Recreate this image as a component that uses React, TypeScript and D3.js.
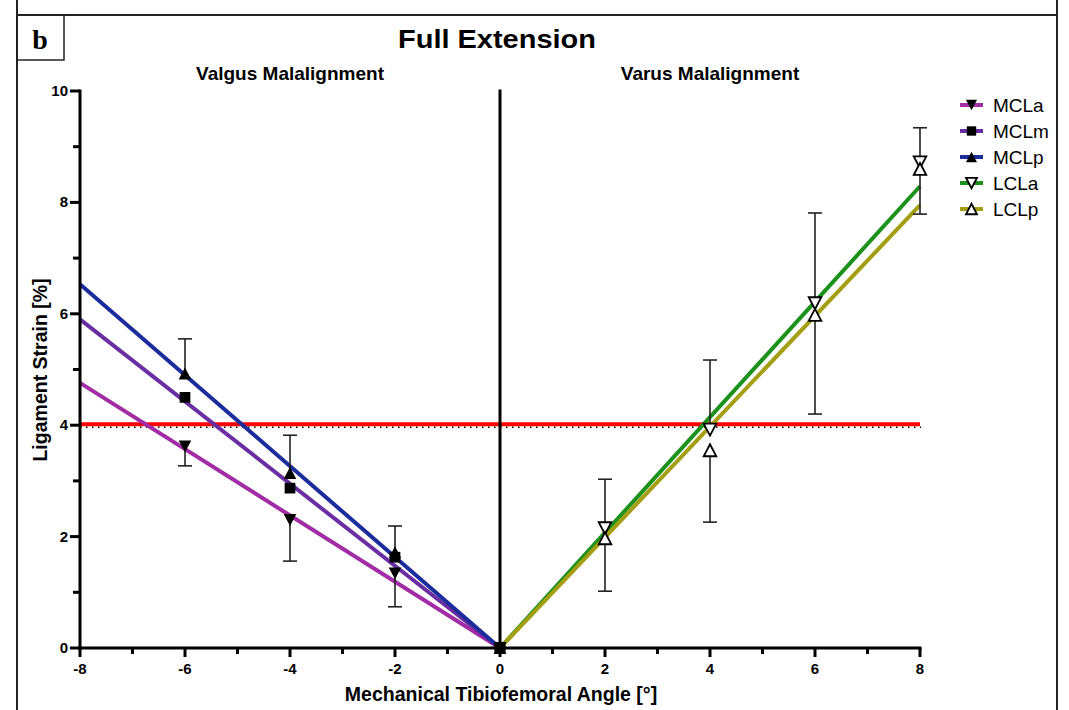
import React from "react";
import * as d3 from "d3";

const seriesNames = ["MCLa", "MCLm", "MCLp", "LCLa", "LCLp"];
const seriesColors = ["#a22ba6", "#6a2ea2", "#1b2c9c", "#1c911c", "#a39e12"];
const seriesSymbols = ["downFilled", "square", "upFilled", "downOpen", "upOpen"];
// fitted line end values (line passes through origin)
const fitX = [-8, -8, -8, 8, 8];
const fitY = [4.76, 5.9, 6.53, 8.29, 7.95];

const valgusAngles = [-6, -4, -2, 0];
const varusAngles = [0, 2, 4, 6, 8];
const mclaMeans = [3.62, 2.3, 1.34, 0];
const mclaLowerErr = [0.35, 0.74, 0.6, 0];
const mclmMeans = [4.5, 2.87, 1.63, 0];
const mclpMeans = [4.93, 3.14, 1.72, 0];
const mclpUpperErr = [0.62, 0.68, 0.47, 0];
const lclaMeans = [0, 2.15, 3.92, 6.19, 8.72];
const lclaUpperErr = [0, 0.88, 1.25, 1.62, 0.62];
const lclpMeans = [0, 1.97, 3.55, 5.98, 8.6];
const lclpLowerErr = [0, 0.95, 1.29, 1.78, 0.81];

const xTicks = [-8, -6, -4, -2, 0, 2, 4, 6, 8];
const xMinor = [-7, -5, -3, -1, 1, 3, 5, 7];
const yTicks = [0, 2, 4, 6, 8, 10];
const yMinor = [1, 3, 5, 7, 9];
const threshold = 4;

const x = d3.scaleLinear().domain([-8, 8]).range([80, 920]);
const y = d3.scaleLinear().domain([0, 10]).range([648, 91]);

function Marker({ kind, cx, cy, s = 6.3 }: any) {
  const h = s * 0.95;
  if (kind === "square") {
    return <rect x={cx - s * 0.85} y={cy - s * 0.85} width={s * 1.7} height={s * 1.7} fill="#000" />;
  }
  const down = kind.startsWith("down");
  const open = kind.endsWith("Open");
  const pts = down
    ? `${cx - s},${cy - h} ${cx + s},${cy - h} ${cx},${cy + h}`
    : `${cx - s},${cy + h} ${cx + s},${cy + h} ${cx},${cy - h}`;
  return (
    <polygon
      points={pts}
      fill={open ? "#fff" : "#000"}
      stroke="#000"
      strokeWidth={open ? 1.8 : 0}
      strokeLinejoin="miter"
    />
  );
}

function ErrBar({ xv, from, to }: any) {
  const px = x(xv);
  return (
    <g stroke="#222" strokeWidth={1.6}>
      <line x1={px} x2={px} y1={y(from)} y2={y(to)} />
      <line x1={px - 7} x2={px + 7} y1={y(to)} y2={y(to)} />
    </g>
  );
}

export default function App() {
  const bold = { fontFamily: "Liberation Sans, Arial, sans-serif", fontWeight: 700 } as any;
  const reg = { fontFamily: "Liberation Sans, Arial, sans-serif" } as any;
  const line = d3.line<[number, number]>().x((d) => x(d[0])).y((d) => y(d[1]));

  return (
    <svg width={1069} height={710} style={{ position: "absolute", left: 0, top: 0, background: "#fff" }}>
      <rect x={0} y={0} width={1069} height={710} fill="#fff" />
      {/* frame */}
      <g stroke="#222" strokeWidth={2} fill="none">
        <line x1={17} x2={17} y1={0} y2={710} />
        <line x1={1057} x2={1057} y1={0} y2={710} />
        <line x1={17} x2={1057} y1={15} y2={15} />
        <rect x={17} y={15} width={47} height={45} strokeWidth={1.5} />
      </g>
      <text x={40} y={49} textAnchor="middle" style={{ fontFamily: "Liberation Serif, Times New Roman, serif", fontWeight: 700 }} fontSize={28}>b</text>

      {/* titles */}
      <text x={497} y={48} textAnchor="middle" style={bold} fontSize={25} textLength={198} lengthAdjust="spacingAndGlyphs">Full Extension</text>
      <text x={290} y={80} textAnchor="middle" style={bold} fontSize={19}>Valgus Malalignment</text>
      <text x={710} y={80} textAnchor="middle" style={bold} fontSize={19}>Varus Malalignment</text>

      {/* threshold */}
      <line x1={x(-8)} x2={x(8)} y1={y(threshold) - 1} y2={y(threshold) - 1} stroke="#ff0000" strokeWidth={4} />
      <line x1={x(-8)} x2={x(8) + 1} y1={y(threshold) + 2} y2={y(threshold) + 2} stroke="#000" strokeWidth={1.5} strokeDasharray="1.5,4.5" />

      {/* fitted lines */}
      {seriesNames.map((n, i) => (
        <path key={n} d={line([[0, 0], [fitX[i], fitY[i]]])!} stroke={seriesColors[i]} strokeWidth={4} fill="none" />
      ))}

      {/* axes */}
      <g stroke="#000" strokeWidth={3} fill="none">
        <line x1={x(-8)} x2={x(-8)} y1={y(10) - 1.5} y2={y(0) + 1.5} />
        <line x1={x(-8) - 1.5} x2={x(8) + 1.5} y1={y(0)} y2={y(0)} />
        <line x1={x(0)} x2={x(0)} y1={y(10) - 1.5} y2={y(0)} />
        {xTicks.map((t) => (
          <line key={"xt" + t} x1={x(t)} x2={x(t)} y1={y(0)} y2={y(0) + 9} />
        ))}
        {xMinor.map((t) => (
          <line key={"xm" + t} x1={x(t)} x2={x(t)} y1={y(0)} y2={y(0) + 6} />
        ))}
        {yTicks.map((t) => (
          <line key={"yt" + t} x1={x(-8) - 10} x2={x(-8)} y1={y(t)} y2={y(t)} />
        ))}
        {yMinor.map((t) => (
          <line key={"ym" + t} x1={x(-8) - 7} x2={x(-8)} y1={y(t)} y2={y(t)} />
        ))}
      </g>
      <g style={bold}>
        {xTicks.map((t) => (
          <text key={"xl" + t} x={x(t)} y={y(0) + 26} textAnchor="middle" style={{ fontSize: "15px" }}>{t}</text>
        ))}
        {yTicks.map((t) => (
          <text key={"yl" + t} x={x(-8) - 12} y={y(t) + 5} textAnchor="end" style={{ fontSize: "15px" }}>{t}</text>
        ))}
      </g>
      <text x={501} y={701} textAnchor="middle" style={bold} fontSize={19.5}>Mechanical Tibiofemoral Angle [°]</text>
      <text transform={`translate(47,370) rotate(-90)`} textAnchor="middle" style={bold} fontSize={19.5}>Ligament Strain [%]</text>

      {/* error bars */}
      {valgusAngles.map((a, i) => mclpUpperErr[i] > 0 && (
        <ErrBar key={"pe" + a} xv={a} from={mclpMeans[i]} to={mclpMeans[i] + mclpUpperErr[i]} />
      ))}
      {valgusAngles.map((a, i) => mclaLowerErr[i] > 0 && (
        <ErrBar key={"ae" + a} xv={a} from={mclaMeans[i]} to={mclaMeans[i] - mclaLowerErr[i]} />
      ))}
      {varusAngles.map((a, i) => lclaUpperErr[i] > 0 && (
        <ErrBar key={"le" + a} xv={a} from={lclaMeans[i]} to={lclaMeans[i] + lclaUpperErr[i]} />
      ))}
      {varusAngles.map((a, i) => lclpLowerErr[i] > 0 && (
        <ErrBar key={"lp" + a} xv={a} from={lclpMeans[i]} to={lclpMeans[i] - lclpLowerErr[i]} />
      ))}

      {/* markers */}
      {valgusAngles.map((a, i) => <Marker key={"ma" + a} kind="downFilled" cx={x(a)} cy={y(mclaMeans[i])} />)}
      {valgusAngles.map((a, i) => <Marker key={"mm" + a} kind="square" cx={x(a)} cy={y(mclmMeans[i])} />)}
      {valgusAngles.map((a, i) => <Marker key={"mp" + a} kind="upFilled" cx={x(a)} cy={y(mclpMeans[i])} />)}
      {varusAngles.slice(1).map((a, i) => <Marker key={"la" + a} kind="downOpen" cx={x(a)} cy={y(lclaMeans[i + 1])} />)}
      {varusAngles.slice(1).map((a, i) => <Marker key={"lpm" + a} kind="upOpen" cx={x(a)} cy={y(lclpMeans[i + 1])} />)}
      <Marker kind="square" cx={x(0)} cy={y(0)} />

      {/* legend */}
      {seriesNames.map((n, i) => {
        const ly = 105 + i * 26;
        return (
          <g key={"lg" + n}>
            <line x1={960} x2={983} y1={ly} y2={ly} stroke={seriesColors[i]} strokeWidth={4} />
            <Marker kind={seriesSymbols[i]} cx={971.5} cy={ly} s={5.5} />
            <text x={993} y={ly + 7} style={reg} fontSize={19}>{n}</text>
          </g>
        );
      })}
    </svg>
  );
}
